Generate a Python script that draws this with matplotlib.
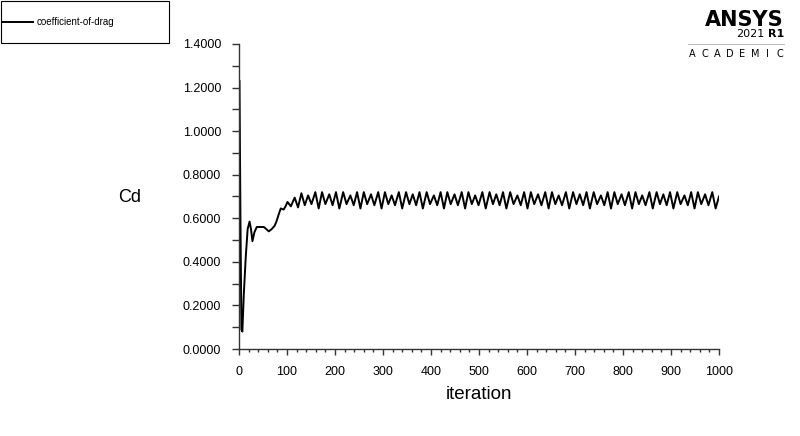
import matplotlib
matplotlib.use("Agg")
import matplotlib.pyplot as plt
from matplotlib.patches import Rectangle
from matplotlib.lines import Line2D
from matplotlib.ticker import MultipleLocator, FormatStrFormatter

plt.rcParams['font.family'] = ['Liberation Sans', 'DejaVu Sans']

# start-up transient (iteration, Cd)
start_iter = [1, 3, 5, 7, 10, 14, 18, 22, 25, 28, 32, 37, 45, 52, 57, 62, 68,
              74, 78, 83, 87, 93, 97, 101, 108, 116, 123]
start_cd = [1.23, 0.60, 0.09, 0.08, 0.25, 0.42, 0.55, 0.585, 0.55, 0.495, 0.535,
            0.56, 0.56, 0.56, 0.55, 0.54, 0.55, 0.565, 0.585, 0.62, 0.645, 0.64,
            0.655, 0.675, 0.655, 0.695, 0.65]

# shedding part: peaks and troughs
peak_iter = [130, 144, 159, 173, 188, 202, 217, 232, 246, 260, 275, 290, 304, 318,
             333, 348, 362, 376, 391, 406, 420, 434, 449, 464, 478, 492, 507, 522,
             536, 550, 565, 580, 594, 608, 623, 638, 652, 666, 681, 696, 710, 724,
             739, 754, 768, 782, 797, 812, 826, 840, 855, 870, 884, 898, 913, 928,
             942, 956, 971, 986, 1000]
peak_cd = [0.715, 0.705, 0.72, 0.72, 0.71, 0.72, 0.72, 0.705, 0.72, 0.72, 0.71,
           0.72, 0.72, 0.705, 0.72, 0.72, 0.71, 0.72, 0.72, 0.705, 0.72, 0.72,
           0.71, 0.72, 0.72, 0.705, 0.72, 0.72, 0.71, 0.72, 0.72, 0.705, 0.72,
           0.72, 0.71, 0.72, 0.72, 0.705, 0.72, 0.72, 0.71, 0.72, 0.72, 0.705,
           0.72, 0.72, 0.71, 0.72, 0.72, 0.705, 0.72, 0.72, 0.71, 0.72, 0.72,
           0.705, 0.72, 0.72, 0.71, 0.72, 0.70]
trough_iter = [137, 151, 166, 180, 195, 209, 224, 239, 253, 267, 282, 297, 311, 325,
               340, 355, 369, 383, 398, 413, 427, 441, 456, 471, 485, 499, 514, 529,
               543, 557, 572, 587, 601, 615, 630, 645, 659, 673, 688, 703, 717, 731,
               746, 761, 775, 789, 804, 819, 833, 847, 862, 877, 891, 905, 920, 935,
               949, 963, 978, 993]
trough_cd = [0.66, 0.665, 0.645, 0.665, 0.66, 0.645, 0.665, 0.66, 0.645, 0.665,
             0.66, 0.645, 0.665, 0.66, 0.645, 0.665, 0.66, 0.645, 0.665, 0.66,
             0.645, 0.665, 0.66, 0.645, 0.665, 0.66, 0.645, 0.665, 0.66, 0.645,
             0.665, 0.66, 0.645, 0.665, 0.66, 0.645, 0.665, 0.66, 0.645, 0.665,
             0.66, 0.645, 0.665, 0.66, 0.645, 0.665, 0.66, 0.645, 0.665, 0.66,
             0.645, 0.665, 0.66, 0.645, 0.665, 0.66, 0.645, 0.665, 0.66, 0.645]

pts = sorted(list(zip(peak_iter, peak_cd)) + list(zip(trough_iter, trough_cd)))
iters = start_iter + [p[0] for p in pts]
cd = start_cd + [p[1] for p in pts]

fig = plt.figure(figsize=(8, 4.36), dpi=100)
ax = fig.add_axes([239/800, 1-349/436, 480/800, 305/436])

line, = ax.plot(iters, cd, color='black', lw=1.4, label='coefficient-of-drag')

ax.set_xlim(0, 1000)
ax.set_ylim(0, 1.4)
ax.spines['top'].set_visible(False)
ax.spines['right'].set_visible(False)
for s in ['left', 'bottom']:
    ax.spines[s].set_color('#333333')
    ax.spines[s].set_linewidth(1.0)

ax.xaxis.set_major_locator(MultipleLocator(100))
ax.xaxis.set_minor_locator(MultipleLocator(20))
ax.yaxis.set_major_locator(MultipleLocator(0.2))
ax.yaxis.set_minor_locator(MultipleLocator(0.1))
ax.yaxis.set_major_formatter(FormatStrFormatter('%.4f'))
ax.tick_params(axis='x', which='major', length=4, width=1, pad=8, labelsize=9, color='#333333')
ax.tick_params(axis='x', which='minor', length=2, width=1, color='#333333')
ax.tick_params(axis='y', which='both', length=5, width=1, pad=8, labelsize=9, color='#333333')

ax.set_xlabel('iteration', fontsize=13.5, labelpad=6)
fig.text(130/800, 1-197/436, 'Cd', fontsize=13, ha='center', va='center')

# legend box top-left
fig.add_artist(Rectangle((0.5/800, 1-43/436), 168/800, 41.5/436, transform=fig.transFigure,
                         fill=False, edgecolor='black', lw=0.8))
fig.legend(handles=[line], loc='center left', bbox_to_anchor=(0, 1-22/436),
           frameon=False, fontsize=7, handlelength=3.2, handletextpad=0.4,
           borderaxespad=0, borderpad=0.2)

# ANSYS logo
fig.text(784/800, 1-26/436, 'ANSYS', fontsize=15, fontweight='bold', ha='right', va='baseline',
         family=['DejaVu Sans'])
fig.text(764/800, 1-37/436, '2021', fontsize=8, ha='right', va='baseline',
         family=['DejaVu Sans'])
fig.text(784/800, 1-37/436, 'R1', fontsize=8, fontweight='bold', ha='right', va='baseline',
         family=['DejaVu Sans'])
fig.add_artist(Line2D([688/800, 784/800], [1-44/436, 1-44/436], transform=fig.transFigure,
                      color='#b0b0b0', lw=0.6))
for i, ch in enumerate('ACADEMIC'):
    fig.text((692 + i*12.6)/800, 1-54/436, ch, fontsize=7, ha='center', va='center',
             family=['DejaVu Sans'])

fig.savefig('out.png', dpi=100)
